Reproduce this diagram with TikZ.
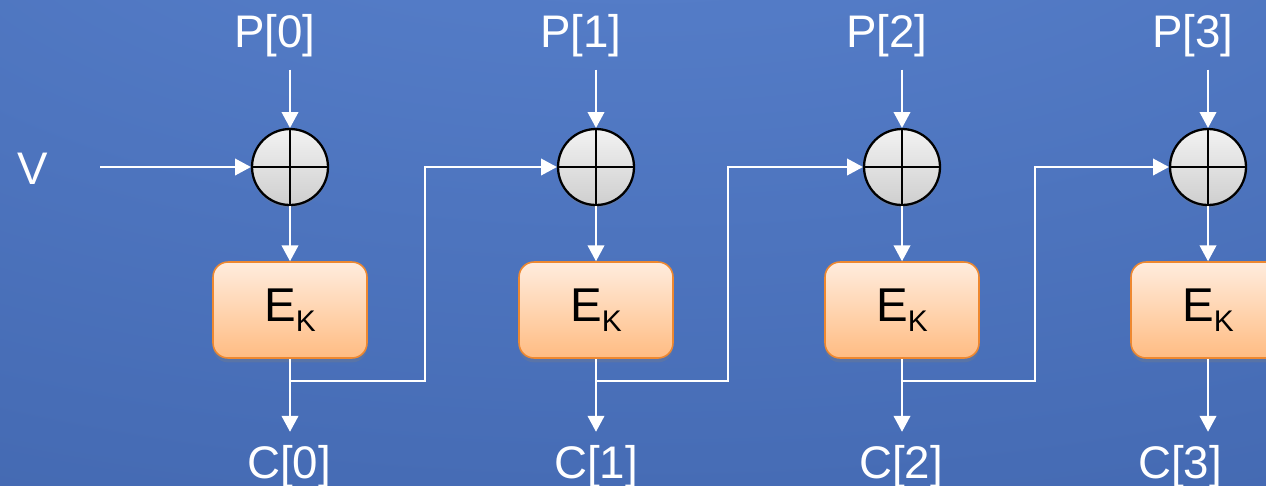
\documentclass[tikz,border=0pt]{standalone}
\usepackage{fontspec}
\setmainfont{Liberation Sans}
\usetikzlibrary{arrows.meta,shadows}
\definecolor{bgin}{RGB}{90,131,207}
\definecolor{bgout}{RGB}{58,94,165}
\definecolor{boxtop}{RGB}{255,236,222}
\definecolor{boxbot}{RGB}{255,188,130}
\definecolor{boxline}{RGB}{238,136,48}
\pgfdeclareradialshading{slide}{\pgfpoint{0bp}{50bp}}{color(0bp)=(bgin); color(25bp)=(bgin!70!bgout); color(80bp)=(bgout); color(100bp)=(bgout)}
\tikzset{
  wire/.style={white, line width=0.8pt},
  arrow/.style={wire, -{Triangle[width=9.5pt,length=9pt]}},
  lbl/.style={white, inner sep=0pt, outer sep=7.5pt, anchor=base, font=\fontsize{26}{30}\selectfont},
  xor/.style={circle, draw=black, line width=1.3pt, minimum size=1.52cm, inner sep=0pt,
    top color=gray!10, bottom color=gray!38,
    drop shadow={shadow xshift=0pt, shadow yshift=-1.5pt, opacity=0.3},
    path picture={\draw[black, line width=1.3pt]
      (path picture bounding box.north) -- (path picture bounding box.south)
      (path picture bounding box.west) -- (path picture bounding box.east);}},
  ek/.style={rectangle, rounded corners=0.3cm, draw=boxline, line width=0.9pt,
    minimum width=3.08cm, minimum height=1.92cm, top color=boxtop, bottom color=boxbot,
    drop shadow={shadow xshift=0pt, shadow yshift=-2.5pt, opacity=0.3},
    font=\fontsize{27}{30}\selectfont}
}
\newcommand{\ekey}{E\raisebox{-0.22em}{\fontsize{17}{17}\selectfont K}}
\begin{document}
\begin{tikzpicture}[x=0.02cm, y=-0.02cm]
    \useasboundingbox (0,0) rectangle (1266,485);
    \clip (0,0) rectangle (1266,485);
    \shade[shading=slide] (0,0) rectangle (1266,485);

    \node[lbl] (v) at (33,184) {V};
    \coordinate (vin) at (100,167);

    \node[lbl] (p0) at (275,47) {P[0]};
    \node[lbl] (p1) at (581,47) {P[1]};
    \node[lbl] (p2) at (887,47) {P[2]};
    \node[lbl] (p3) at (1193,47) {P[3]};

    \node[xor] (xor0) at (290,167) {};
    \node[xor] (xor1) at (596,167) {};
    \node[xor] (xor2) at (902,167) {};
    \node[xor] (xor3) at (1208,167) {};

    \node[ek] (ek0) at (290,310) {\ekey};
    \node[ek] (ek1) at (596,310) {\ekey};
    \node[ek] (ek2) at (902,310) {\ekey};
    \node[ek] (ek3) at (1208,310) {\ekey};

    \node[lbl] (c0) at (289,478) {C[0]};
    \node[lbl] (c1) at (596,478) {C[1]};
    \node[lbl] (c2) at (901,478) {C[2]};
    \node[lbl] (c3) at (1180,478) {C[3]};

    \coordinate (j0) at (290,381);
    \coordinate (j1) at (596,381);
    \coordinate (j2) at (902,381);

    \draw[arrow] (vin) -- (xor0.west);
    \draw[arrow] (xor0 |- p0.south) -- (xor0);
    \draw[arrow] (xor1 |- p1.south) -- (xor1);
    \draw[arrow] (xor2 |- p2.south) -- (xor2);
    \draw[arrow] (xor3 |- p3.south) -- (xor3);
    \draw[arrow] (xor0) -- (ek0);
    \draw[arrow] (xor1) -- (ek1);
    \draw[arrow] (xor2) -- (ek2);
    \draw[arrow] (xor3) -- (ek3);
    \draw[arrow] (ek0) -- (ek0 |- c0.north);
    \draw[arrow] (ek1) -- (ek1 |- c1.north);
    \draw[arrow] (ek2) -- (ek2 |- c2.north);
    \draw[arrow] (ek3) -- (ek3 |- c3.north);

    % chaining into the next block
    \draw[arrow] (j0) -- ++(135,0) |- (xor1.west);
    \draw[arrow] (j1) -- ++(132,0) |- (xor2.west);
    \draw[arrow] (j2) -- ++(133,0) |- (xor3.west);
\end{tikzpicture}
\end{document}
